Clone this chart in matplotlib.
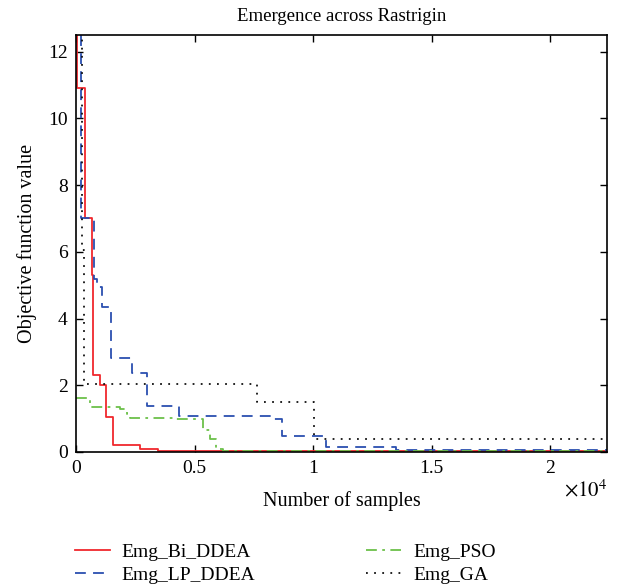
import matplotlib
matplotlib.use("Agg")
import matplotlib.pyplot as plt
from matplotlib.ticker import FixedLocator

plt.rcParams['font.family'] = ['Liberation Serif', 'DejaVu Serif']
plt.rcParams['mathtext.fontset'] = 'stix'

# Data (samples, objective value) -- step functions
bi_x = [0, 42, 380, 662, 705, 1013, 1253, 1574, 2700, 3460, 22400]
bi_y = [14, 10.9, 7.0, 5.3, 2.3, 2.0, 1.06, 0.2, 0.08, 0.02, 0.02]

lp_x = [0, 211, 772, 874, 1110, 1477, 2350, 2984, 4347, 8230, 8706, 10550, 13490, 22400]
lp_y = [14, 7.0, 5.2, 4.96, 4.35, 2.82, 2.38, 1.38, 1.08, 0.99, 0.49, 0.14, 0.06, 0.06]

pso_x = [0, 591, 1857, 2140, 2280, 4180, 5372, 5655, 5895, 6216, 22400]
pso_y = [1.63, 1.36, 1.29, 1.13, 1.03, 0.98, 0.66, 0.39, 0.10, 0.02, 0.02]

ga_x = [0, 240, 338, 7625, 10050, 22400]
ga_y = [14, 6.06, 2.04, 1.51, 0.38, 0.38]

labels = ['Emg_Bi_DDEA', 'Emg_LP_DDEA', 'Emg_PSO', 'Emg_GA']

fig = plt.figure(figsize=(6.18, 5.88), dpi=100)
ax = fig.add_axes([76/618, 1 - 452/588, (607-76)/618, (452-35)/588])

l1, = ax.step(bi_x, bi_y, where='post', color='#f0282d', lw=1.3, label=labels[0])
l2, = ax.step(lp_x, lp_y, where='post', color='#2b4fb0', lw=1.3, ls=(0, (6, 4)), label=labels[1])
l3, = ax.step(pso_x, pso_y, where='post', color='#6cc04a', lw=1.3, ls=(0, (6, 3, 1.5, 3)), label=labels[2])
l4, = ax.step(ga_x, ga_y, where='post', color='#111111', lw=1.3, ls=(0, (1, 3.5)), label=labels[3])

ax.set_xlim(0, 22400)
ax.set_ylim(0, 12.5)
ax.xaxis.set_major_locator(FixedLocator([0, 5000, 10000, 15000, 20000]))
ax.set_xticklabels(['0', '0.5', '1', '1.5', '2'])
ax.yaxis.set_major_locator(FixedLocator([0, 2, 4, 6, 8, 10, 12]))
ax.tick_params(direction='in', top=True, right=True, length=5, width=1, labelsize=14, pad=6)
for s in ax.spines.values():
    s.set_linewidth(1.2)

ax.set_title('Emergence across Rastrigin', fontsize=13.5, pad=10)
ax.set_xlabel('Number of samples', fontsize=14.5, labelpad=10)
ax.set_ylabel('Objective function value', fontsize=14.5, labelpad=8)
ax.text(1.0, -0.066, r'$\times10^4$', transform=ax.transAxes, ha='right', va='top', fontsize=15)

fig.legend(handles=[l1, l2, l3, l4], labels=labels, loc='lower left',
           bbox_to_anchor=(75/618, 4/588), ncol=2, frameon=False, fontsize=14,
           borderpad=0, borderaxespad=0,
           handlelength=1.8, handletextpad=0.6, columnspacing=5.7, labelspacing=0.3)

fig.savefig('out.png', dpi=100)
